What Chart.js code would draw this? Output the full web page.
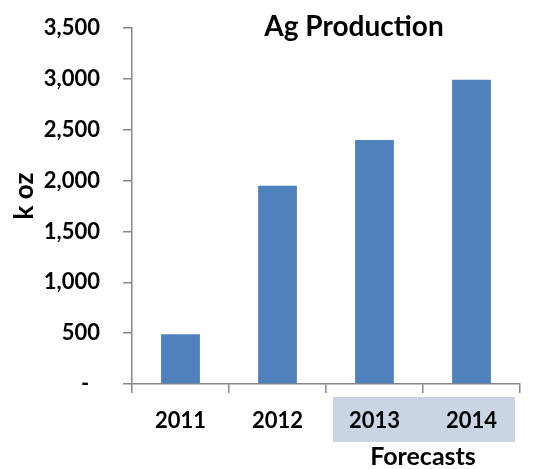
<!DOCTYPE html>
<html>
<head>
<meta charset="utf-8">
<script src="https://cdn.jsdelivr.net/npm/chart.js@4.4.0/dist/chart.umd.min.js"></script>
<style>
  body { margin: 0; background: #fff; }
  canvas { display: block; }
</style>
</head>
<body>
<canvas id="myChart" width="548" height="469"></canvas>
<script>
var years = ['2011', '2012', '2013', '2014'];
var production = [490, 1950, 2400, 2990];
var forecastYears = ['2013', '2014'];
var chartTitle = 'Ag Production';
var yTitle = 'k oz';
var forecastLabel = 'Forecasts';

var font = 'Lato';
var axisGray = '#868686';

// shaded box + label under the forecast years, chart title and y title
var extras = {
    id: 'extras',
    beforeDraw: function (chart) {
        var ctx = chart.ctx;
        var x = chart.scales.x;
        var bottom = chart.chartArea.bottom;
        var first = x.getPixelForValue(years.indexOf(forecastYears[0]));
        var last = x.getPixelForValue(years.indexOf(forecastYears[forecastYears.length - 1]));
        var half = (x.getPixelForValue(1) - x.getPixelForValue(0)) / 2;
        ctx.save();
        ctx.fillStyle = '#cad4e3';
        ctx.fillRect(first - half + 7, bottom + 13, last - first + 2 * half - 12, 45);
        ctx.restore();
    },
    afterDraw: function (chart) {
        var ctx = chart.ctx;
        var x = chart.scales.x;
        var first = x.getPixelForValue(years.indexOf(forecastYears[0]));
        var last = x.getPixelForValue(years.indexOf(forecastYears[forecastYears.length - 1]));
        ctx.save();
        ctx.fillStyle = '#000';
        ctx.textAlign = 'center';
        ctx.textBaseline = 'middle';
        ctx.font = 'bold 25px ' + font;
        ctx.fillText(forecastLabel, (first + last) / 2, chart.chartArea.bottom + 73);
        ctx.font = 'bold 28px ' + font;
        ctx.fillText(chartTitle, 354, 27);
        ctx.translate(25, 196);
        ctx.rotate(-Math.PI / 2);
        ctx.font = 'bold 26px ' + font;
        ctx.fillText(yTitle, 0, 0);
        ctx.restore();
    }
};

var ctx = document.getElementById('myChart').getContext('2d');
var chart = new Chart(ctx, {
    type: 'bar',
    data: {
        labels: years,
        datasets: [{
            label: 'Production',
            data: production,
            backgroundColor: '#4f81bd',
            borderWidth: 0,
            categoryPercentage: 1,
            barPercentage: 0.4
        }]
    },
    options: {
        responsive: false,
        animation: false,
        layout: {
            padding: { top: 28, right: 28, left: 0, bottom: 0 }
        },
        plugins: {
            legend: { display: false },
            tooltip: { enabled: false }
        },
        scales: {
            x: {
                grid: {
                    drawOnChartArea: false,
                    drawTicks: true,
                    tickLength: 9,
                    color: axisGray,
                    lineWidth: 1.5
                },
                border: { color: axisGray, width: 1.5 },
                ticks: {
                    color: '#000',
                    padding: 15,
                    font: { family: font, size: 22, weight: 'bold' }
                },
                afterFit: function (scale) {
                    scale.height = 85;
                }
            },
            y: {
                min: 0,
                max: 3500,
                grid: {
                    drawOnChartArea: false,
                    drawTicks: true,
                    tickLength: 9,
                    color: axisGray,
                    lineWidth: 1.5
                },
                border: { color: axisGray, width: 1.5 },
                ticks: {
                    stepSize: 500,
                    color: '#000',
                    padding: 23,
                    font: { family: font, size: 22, weight: 'bold' },
                    callback: function (value) {
                        if (value === 0) return '-  ';
                        return value.toLocaleString('en-US');
                    }
                },
                afterFit: function (scale) {
                    scale.width = 132;
                    scale.paddingTop = 0;
                    scale.paddingBottom = 0;
                }
            }
        }
    },
    plugins: [extras]
});
</script>
</body>
</html>
